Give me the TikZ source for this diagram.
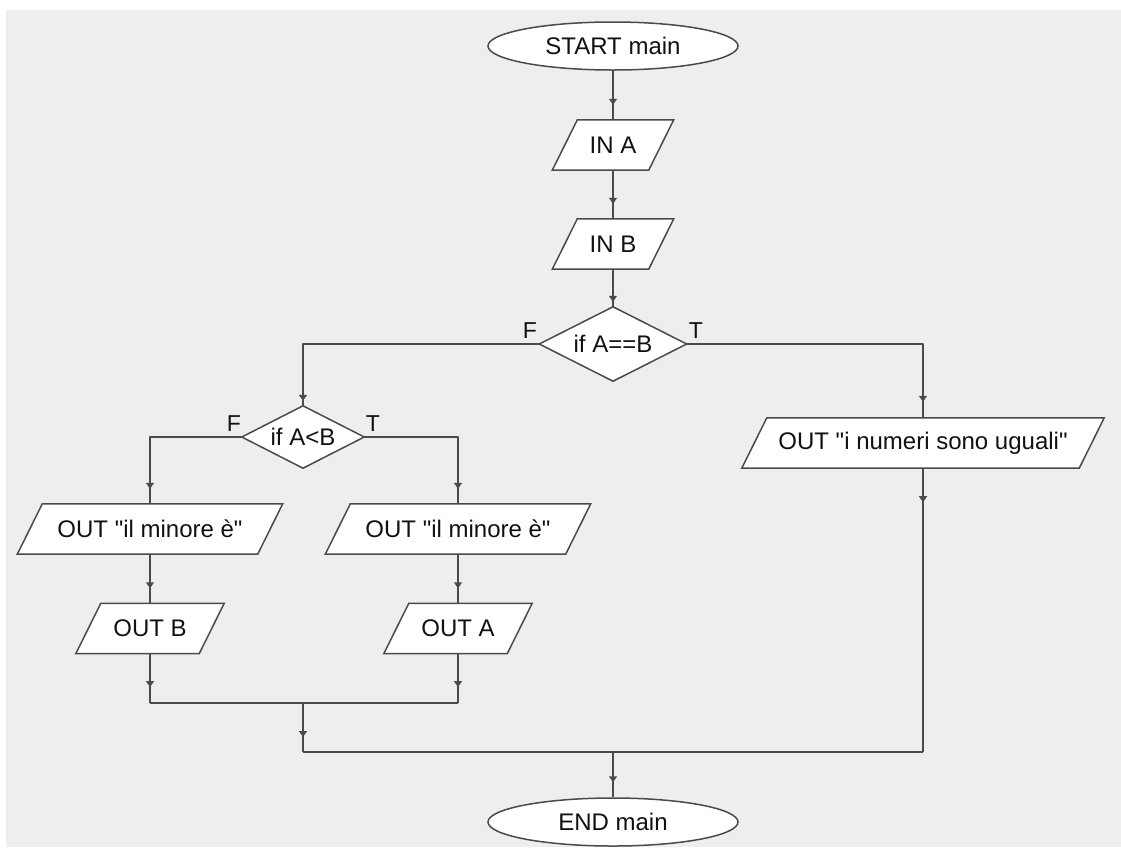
\documentclass[tikz,border=0pt]{standalone}
\usepackage{fontspec}
\setmainfont{Liberation Sans}[Ligatures=TeXOff]
\usetikzlibrary{shapes.geometric,arrows.meta,decorations.markings}
\definecolor{bg}{HTML}{EEEEEE}
\definecolor{ln}{HTML}{4A4A4A}
\definecolor{tx}{HTML}{111111}
\newcommand{\fcpara}[5]{% name, x, y, width, text
  \node[box, minimum width=#4pt] (#1) at (#2,#3) {};
  \path[shapeline] ([xshift=12.5pt]#1.north west) -- ([xshift=12.5pt]#1.north east) -- ([xshift=-12.5pt]#1.south east) -- ([xshift=-12.5pt]#1.south west) -- cycle;
  \node at (#1.center) {#5};
}
\newcommand{\fcdia}[6]{% name, x, y, w, h, text
  \node[rectangle, inner sep=0pt, minimum width=#4pt, minimum height=#5pt] (#1) at (#2,#3) {};
  \path[shapeline] (#1.north) -- (#1.east) -- (#1.south) -- (#1.west) -- cycle;
  \node at (#1.center) {#6};
}
\begin{document}
\begin{tikzpicture}[x=1pt,y=-1pt,
  every node/.style={text=tx, font=\fontsize{24}{28}\selectfont},
  term/.style={ellipse, draw=ln, fill=white, line width=1.5pt, minimum width=250pt, minimum height=48pt, inner sep=0pt},
  box/.style={rectangle, inner sep=0pt, minimum height=50pt},
  shapeline/.style={draw=ln, fill=white, line width=1.5pt, line join=miter},
  flow/.style={draw=ln, line width=1.5pt, line join=round},
  arr/.style={postaction={decorate}, decoration={markings, mark=at position #1 with {\arrow[ln]{Triangle[width=8pt,length=6pt]}}}},
  lbl/.style={font=\fontsize{23}{27}\selectfont}
]
\useasboundingbox (0,0) rectangle (1121,847);
\fill[white] (0,0) rectangle (1121,847);
\fill[bg] (6,10) rectangle (1121,847);

% nodes
\node[term] (start) at (613,46) {START main};
\fcpara{inA}{613}{145}{96}{IN A}
\fcpara{inB}{613}{244}{96}{IN B}
\fcdia{d1}{613}{344}{147}{74}{if A==B}
\fcdia{d2}{303}{437}{122}{62}{if A<B}
\fcpara{outLa}{150}{529}{240}{OUT "il minore è"}
\fcpara{outRa}{458}{529}{240}{OUT "il minore è"}
\fcpara{outB}{150}{628.5}{123}{OUT B}
\fcpara{outA}{458}{628.5}{123}{OUT A}
\fcpara{outEq}{923}{443}{337}{OUT "i numeri sono uguali"}
\node[term] (end) at (613,822) {END main};

\node[lbl] (fa) at (530,331) {F};
\node[lbl] (ta) at (696,331) {T};
\node[lbl] (fb) at (234,424) {F};
\node[lbl] (tb) at (373,424) {T};

\coordinate (j1) at (303,703);
\coordinate (j2) at (613,752);

% connectors
\draw[flow, arr=-15pt] (start.south) -- (inA.north);
\draw[flow, arr=-15pt] (inA.south) -- (inB.north);
\draw[flow, arr=-5pt] (inB.south) -- (d1.north);
\draw[flow, arr=-5pt] (d1.west) -| (d2.north);
\draw[flow, arr=-16pt] (d1.east) -| (outEq.north);
\draw[flow, arr=-15pt] (d2.west) -| (outLa.north);
\draw[flow, arr=-15pt] (d2.east) -| (outRa.north);
\draw[flow, arr=-15pt] (outLa.south) -- (outB.north);
\draw[flow, arr=-15pt] (outRa.south) -- (outA.north);
\draw[flow, arr=-16pt] (outB.south) -- (outB.south |- j1);
\draw[flow, arr=-16pt] (outA.south) -- (outA.south |- j1);
\draw[flow] (outB.south |- j1) -- (outA.south |- j1);
\draw[flow, arr=-15pt] (j1) -- (j1 |- j2);
\draw[flow, arr=34pt] (outEq.south) -- (outEq.south |- j2);
\draw[flow] (j1 |- j2) -- (outEq.south |- j2);
\draw[flow, arr=-15pt] (j2) -- (end.north);
\end{tikzpicture}
\end{document}
